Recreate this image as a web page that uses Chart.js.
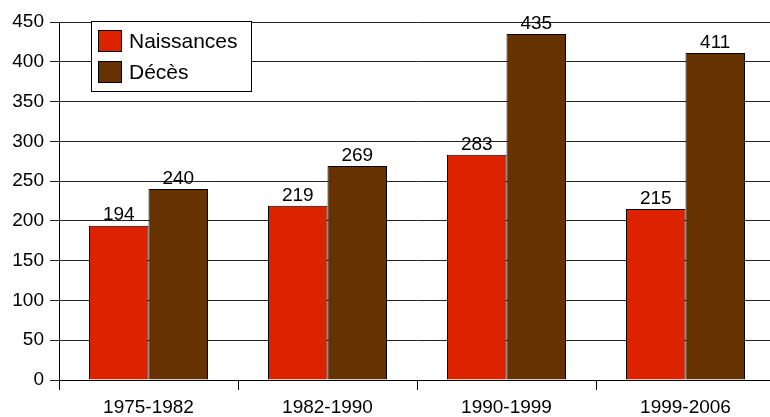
<!DOCTYPE html>
<html>
<head>
<meta charset="utf-8">
<script src="https://cdn.jsdelivr.net/npm/chart.js@4/dist/chart.umd.min.js"></script>
<style>
html,body{margin:0;padding:0;background:#fff;overflow:hidden;width:770px;height:417px;}
canvas{display:block;}
</style>
</head>
<body>
<canvas id="c" width="776" height="417"></canvas>
<script>
const categories = ["1975-1982", "1982-1990", "1990-1999", "1999-2006"];
const naissances = [194, 219, 283, 215];
const deces = [240, 269, 435, 411];
const seriesNames = ["Naissances", "Décès"];
const yTicks = [0, 50, 100, 150, 200, 250, 300, 350, 400, 450];

const FONT = '"Liberation Sans", Arial, sans-serif';
const FS = 19;
const LFS = 21;

const valueLabels = {
  id: 'valueLabels',
  afterDatasetsDraw(chart) {
    const ctx = chart.ctx;
    ctx.save();
    ctx.font = FS + 'px ' + FONT;
    ctx.fillStyle = '#000';
    ctx.textAlign = 'center';
    ctx.textBaseline = 'bottom';
    chart.data.datasets.forEach((ds, i) => {
      chart.getDatasetMeta(i).data.forEach((bar, j) => {
        ctx.fillText(String(ds.data[j]), bar.x, bar.y - 1);
      });
    });
    ctx.restore();
  }
};

const boxLegend = {
  id: 'boxLegend',
  afterDraw(chart) {
    const ctx = chart.ctx;
    const a = chart.chartArea;
    const x = a.left + 32, y = a.top - 1, w = 160, h = 70;
    ctx.save();
    ctx.fillStyle = '#fff';
    ctx.fillRect(x, y, w, h);
    ctx.strokeStyle = '#000';
    ctx.lineWidth = 1;
    ctx.strokeRect(x + 0.5, y + 0.5, w, h);
    ctx.font = LFS + 'px ' + FONT;
    ctx.textBaseline = 'middle';
    ctx.textAlign = 'left';
    chart.data.datasets.forEach((ds, i) => {
      const sy = y + 9 + i * 31;
      ctx.fillStyle = ds.backgroundColor;
      ctx.fillRect(x + 7, sy, 24, 22);
      ctx.strokeStyle = '#000';
      ctx.strokeRect(x + 7.5, sy + 0.5, 23, 21);
      ctx.fillStyle = '#000';
      ctx.fillText(ds.label, x + 38, sy + 12);
    });
    ctx.restore();
  }
};

new Chart(document.getElementById('c'), {
  type: 'bar',
  data: {
    labels: categories,
    datasets: [
      { label: seriesNames[0], data: naissances, backgroundColor: '#DD2200', borderColor: '#000', borderWidth: 1, borderSkipped: 'bottom' },
      { label: seriesNames[1], data: deces, backgroundColor: '#663300', borderColor: '#000', borderWidth: 1, borderSkipped: 'bottom' }
    ]
  },
  options: {
    responsive: false,
    animation: false,
    devicePixelRatio: 1,
    layout: { padding: { top: 22, right: 1, left: 0, bottom: 0 } },
    plugins: { legend: { display: false }, tooltip: { enabled: false }, title: { display: false } },
    datasets: { bar: { categoryPercentage: 0.665, barPercentage: 1.0 } },
    scales: {
      x: {
        type: 'category',
        offset: true,
        grid: { offset: true, drawOnChartArea: false, drawTicks: true, tickLength: 10, color: '#000', lineWidth: 1 },
        border: { display: true, color: '#000', width: 1 },
        ticks: { color: '#000', font: { family: FONT, size: FS }, padding: 6, maxRotation: 0, autoSkip: false },
        afterFit(s) { s.height = 37; }
      },
      y: {
        min: 0, max: 450,
        afterBuildTicks(s) { s.ticks = yTicks.map(v => ({ value: v })); },
        grid: { color: '#222', lineWidth: 1, drawTicks: true, tickLength: 9 },
        border: { display: true, color: '#000', width: 1 },
        ticks: { color: '#000', font: { family: FONT, size: FS }, padding: 6 },
        afterFit(s) { s.width = 59; }
      }
    }
  },
  plugins: [valueLabels, boxLegend]
});
</script>
</body>
</html>
